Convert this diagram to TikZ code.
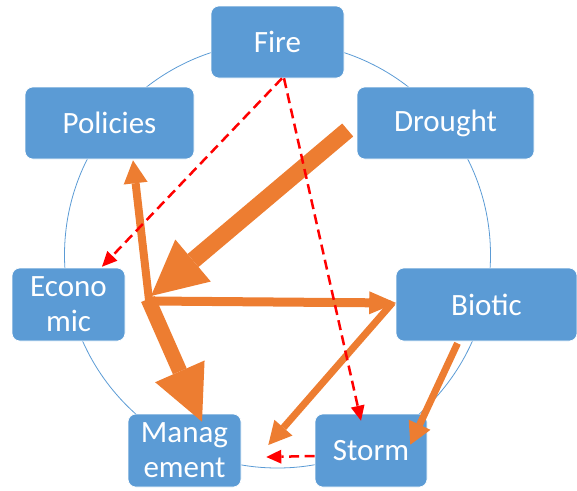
\documentclass[tikz,border=0pt]{standalone}
\usepackage{fontspec}
\setmainfont{Carlito}
\usetikzlibrary{arrows.meta}
\definecolor{boxblue}{HTML}{5B9BD5}
\definecolor{arrorange}{HTML}{ED7D31}
\definecolor{dashred}{HTML}{FF0000}
\begin{document}
\begin{tikzpicture}[x=1pt,y=-1pt,
  box/.style={rectangle, rounded corners=8pt, fill=boxblue, draw=white, line width=0.6pt,
    text=white, font=\fontsize{31}{35}\selectfont, align=center, inner sep=0pt, anchor=center},
  oarrow/.style={draw=arrorange, line width=#1},
  rarrow/.style={draw=dashred, line width=2.5pt, dash pattern=on 10pt off 5.5pt,
    -{Triangle[length=15pt,width=14pt,line width=0pt]}}
]
\useasboundingbox (0,0) rectangle (577,490);
\draw[boxblue, line width=0.8pt] (277.5,255) circle[radius=213];

\node[box, minimum width=133pt, minimum height=72pt] (fire) at (277.5,42) {Fire};
\node[box, minimum width=169pt, minimum height=72pt] (pol) at (109.5,123) {Policies};
\node[box, minimum width=177pt, minimum height=72pt] (dro) at (445.5,123) {Drought};
\node[box, minimum width=113pt, minimum height=73pt] (eco) at (68.5,304.5) {Econo\\mic};
\node[box, minimum width=113pt, minimum height=73pt] (man) at (184.5,450.5) {Manag\\ement};
\node[box, minimum width=181pt, minimum height=73pt] (bio) at (486.5,304.5) {Biotic};
\node[box, minimum width=112pt, minimum height=73pt] (sto) at (371,450.5) {Storm};

\coordinate (hub) at (151,296);

% orange arrows
\draw[oarrow=17pt, -{Triangle[length=55pt,width=55pt,line width=0pt]}]
  ([xshift=-9pt,yshift=-7pt]dro.west) -- (hub);
\draw[oarrow=8pt, -{Triangle[length=23pt,width=24pt,line width=0pt]}]
  ([xshift=-2pt,yshift=-4pt]hub) -- ([xshift=23.5pt,yshift=-1pt]pol.south);
\draw[oarrow=15pt, -{Triangle[length=55pt,width=54pt,line width=0pt]}]
  ([xshift=-3pt,yshift=-3pt]hub) -- ([xshift=17.5pt,yshift=-8pt]man.north);
\draw[oarrow=9pt, -{Triangle[length=27pt,width=23pt,line width=0pt]}]
  ([xshift=1pt,yshift=-5pt]hub) -- ([xshift=0.5pt,yshift=1.5pt]bio.west);
\draw[oarrow=7pt, -{Triangle[length=23pt,width=24pt,line width=0pt]}]
  ([xshift=-3pt,yshift=2pt]bio.west) -- ([xshift=27pt,yshift=5.5pt]man.east);
\draw[oarrow=7pt, -{Triangle[length=22pt,width=24pt,line width=0pt]}]
  ([xshift=-29pt,yshift=-2pt]bio.south) -- ([xshift=-17pt,yshift=-31pt]sto.north east);

% red dashed arrows
\draw[rarrow] ([xshift=4.5pt]fire.south) -- ([xshift=33.5pt,yshift=1pt]eco.north);
\draw[rarrow] ([xshift=6.5pt]fire.south) -- ([xshift=-10pt,yshift=-7pt]sto.north);
\draw[rarrow] ([yshift=-5.5pt]sto.west) -- ([xshift=25pt,yshift=-6.5pt]man.east);
\end{tikzpicture}
\end{document}
